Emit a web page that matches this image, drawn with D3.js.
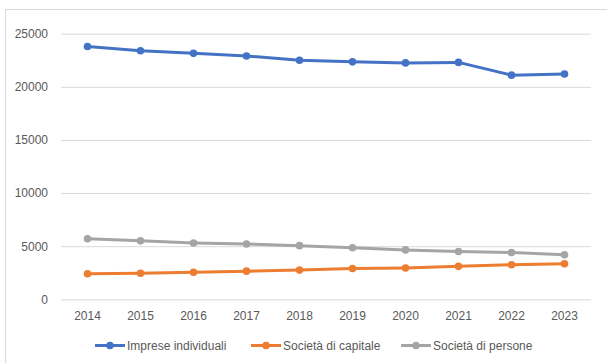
<!DOCTYPE html>
<html>
<head>
<meta charset="utf-8">
<script src="https://cdn.jsdelivr.net/npm/d3@7"></script>
<style>
  html, body { margin: 0; padding: 0; background: #fff; }
  svg { display: block; font-family: "Liberation Sans", Arial, sans-serif; }
</style>
</head>
<body>
<svg id="chart" width="607" height="363"></svg>
<script>
// Data
const years = ["2014","2015","2016","2017","2018","2019","2020","2021","2022","2023"];
const impreseIndividuali = [23800, 23400, 23150, 22900, 22500, 22350, 22250, 22300, 21100, 21200];
const societaCapitale   = [2400, 2450, 2550, 2650, 2750, 2900, 2950, 3100, 3250, 3350];
const societaPersone    = [5700, 5500, 5300, 5200, 5050, 4850, 4650, 4500, 4400, 4200];
const yTicks = [0, 5000, 10000, 15000, 20000, 25000];

const seriesNames = ["Imprese individuali", "Società di capitale", "Società di persone"];
const seriesColors = ["#4472C4", "#ED7D31", "#A5A5A5"];
const series = [impreseIndividuali, societaCapitale, societaPersone].map((values, i) => ({
  name: seriesNames[i], color: seriesColors[i], values
}));

const svg = d3.select("#chart");

// Chart area frame
svg.append("rect")
  .attr("x", 5.5).attr("y", 9.5)
  .attr("width", 620).attr("height", 380)
  .attr("fill", "none").attr("stroke", "#d9d9d9").attr("stroke-width", 1);

const plot = { left: 61, right: 591, top: 33.7, bottom: 299.3 };

const x = d3.scaleBand().domain(years).range([plot.left, plot.right]);
const y = d3.scaleLinear().domain([0, 25000]).range([plot.bottom, plot.top]);

// Horizontal gridlines and value labels
const yAxis = d3.axisLeft(y).tickValues(yTicks).tickSize(-(plot.right - plot.left)).tickPadding(13).tickFormat(d3.format("d"));
const gy = svg.append("g").attr("transform", `translate(${plot.left},0)`).call(yAxis);
gy.select(".domain").remove();
gy.selectAll(".tick line").attr("stroke", "#d9d9d9").attr("stroke-width", 1);
gy.selectAll(".tick text").attr("fill", "#595959").style("font-size", "12px");

// Category labels
const xAxis = d3.axisBottom(x).tickSize(0).tickPadding(12);
const gx = svg.append("g").attr("transform", `translate(0,${plot.bottom})`).call(xAxis);
gx.select(".domain").remove();
gx.selectAll(".tick text").attr("fill", "#595959").style("font-size", "12px");

const cx = d => x(d) + x.bandwidth() / 2;
const line = d3.line().x((d, i) => cx(years[i])).y(d => y(d));

const g = svg.append("g");
series.forEach(s => {
  g.append("path")
    .datum(s.values)
    .attr("d", line)
    .attr("fill", "none")
    .attr("stroke", s.color)
    .attr("stroke-width", 3)
    .attr("stroke-linejoin", "round")
    .attr("stroke-linecap", "round");
  g.selectAll(null)
    .data(s.values)
    .enter().append("circle")
    .attr("cx", (d, i) => cx(years[i]))
    .attr("cy", d => y(d))
    .attr("r", 3.8)
    .attr("fill", s.color);
});

// Legend
const legendY = 345.5;
const legendX = [95, 251, 401];
const lg = svg.append("g");
series.forEach((s, i) => {
  const item = lg.append("g").attr("transform", `translate(${legendX[i]},${legendY})`);
  item.append("line").attr("x1", 0).attr("x2", 30).attr("y1", 0).attr("y2", 0)
    .attr("stroke", s.color).attr("stroke-width", 3);
  item.append("circle").attr("cx", 15).attr("cy", 0).attr("r", 3.8).attr("fill", s.color);
  item.append("text").attr("x", 32).attr("y", 0).attr("dy", "0.35em")
    .attr("fill", "#595959").style("font-size", "12px").text(s.name);
});
</script>
</body>
</html>
